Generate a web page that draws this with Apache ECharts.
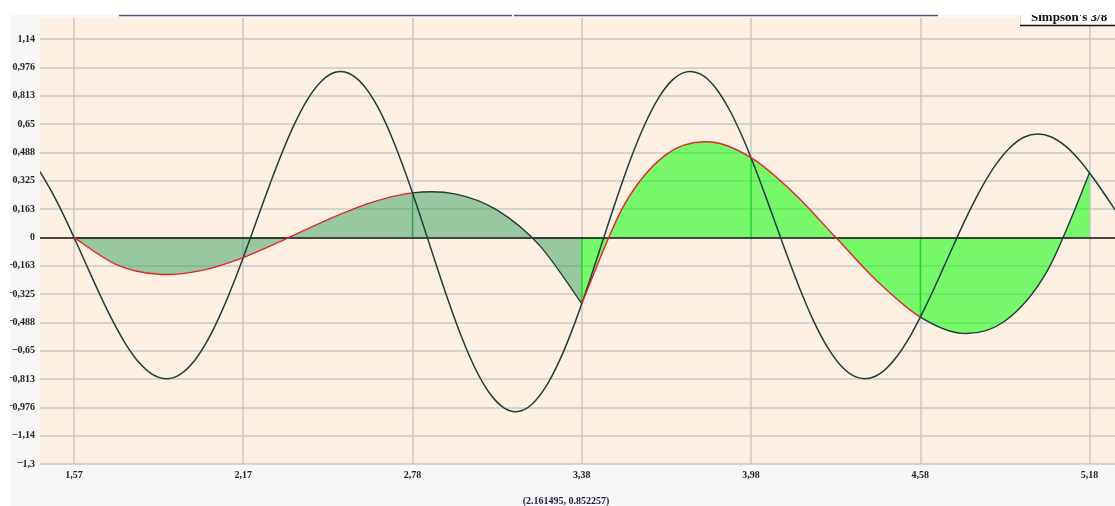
<!DOCTYPE html>
<html><head><meta charset="utf-8">
<style>html,body{margin:0;padding:0;background:#fff;}#c{width:1115px;height:506px;}</style>
<script src="https://cdn.jsdelivr.net/npm/echarts@6.0.0/dist/echarts.min.js"></script>
</head><body><div id="c"></div>
<script>
// function curve f(x)
const fX = [1.45,1.50,1.55,1.60,1.65,1.70,1.75,1.80,1.85,1.90,
  1.95,2.00,2.05,2.10,2.15,2.20,2.25,2.30,2.35,2.40,
  2.45,2.50,2.55,2.60,2.65,2.70,2.75,2.80,2.85,2.90,
  2.95,3.00,3.05,3.10,3.15,3.20,3.25,3.30,3.35,3.40,
  3.45,3.50,3.55,3.60,3.65,3.70,3.75,3.80,3.85,3.90,
  3.95,4.00,4.05,4.10,4.15,4.20,4.25,4.30,4.35,4.40,
  4.45,4.50,4.55,4.60,4.65,4.70,4.75,4.80,4.85,4.90,
  4.95,5.00,5.05,5.10,5.15,5.20,5.25,5.274];
const fY = [0.377,0.236,0.073,-0.104,-0.283,-0.452,-0.599,-0.714,-0.786,-0.811,
  -0.784,-0.706,-0.580,-0.412,-0.214,0.004,0.227,0.441,0.632,0.787,
  0.894,0.947,0.940,0.874,0.752,0.580,0.370,0.135,-0.111,-0.352,
  -0.573,-0.758,-0.896,-0.978,-0.999,-0.957,-0.855,-0.700,-0.502,-0.273,
  -0.028,0.216,0.445,0.643,0.799,0.903,0.949,0.936,0.864,0.739,
  0.571,0.371,0.152,-0.071,-0.283,-0.473,-0.627,-0.738,-0.799,-0.808,
  -0.767,-0.679,-0.553,-0.397,-0.224,-0.044,0.130,0.287,0.417,0.514,
  0.574,0.593,0.574,0.520,0.438,0.333,0.216,0.158];
// Simpson 3/8 interpolating cubics, panel 1 and panel 2
const panel1X = [1.5708,1.7213,1.8719,2.0224,2.1729,2.3235,2.4740,2.6245,2.7751,2.9256,3.0761,3.2267,3.3772];
const panel1Y = [0,-0.156,-0.212,-0.191,-0.116,-0.010,0.102,0.198,0.255,0.249,0.156,-0.046,-0.380];
const panel2X = [3.3772,3.5277,3.6783,3.8288,3.9793,4.1299,4.2804,4.4309,4.5815,4.7320,4.8825,5.0331,5.1836];
const panel2Y = [-0.380,0.185,0.476,0.548,0.457,0.256,0.000,-0.256,-0.458,-0.551,-0.480,-0.192,0.370];
// nodes
const nodeX = [1.5708,2.1729,2.7751,3.3772,3.9793,4.5815,5.1836];
const nodeY = [0,-0.116,0.255,-0.380,0.457,-0.458,0.370];
// ticks
const xTickValues = [1.5708,2.1729,2.7751,3.3772,3.9793,4.5815,5.1836];
const xTickLabels = ["1,57","2,17","2,78","3,38","3,98","4,58","5,18"];
const yTickValues = [-1.3,-1.1375,-0.975,-0.8125,-0.65,-0.4875,-0.325,-0.1625,0,0.1625,0.325,0.4875,0.65,0.8125,0.975,1.1375];
const yTickLabels = ["-1,3","-1,14","-0,976","-0,813","-0,65","-0,488","-0,325","-0,163","0","0,163","0,325","0,488","0,65","0,813","0,976","1,14"];
const legendLabel = "Simpson's 3/8";
const cursorLabel = "(2.161495, 0.852257)";

const zip = (a, b) => a.map((v, i) => [v, b[i]]);
const lookup = (vals, labs) => v => { const i = vals.findIndex(t => Math.abs(t - v) < 1e-6); return i < 0 ? '' : labs[i]; };

// Catmull-Rom path through pixel points, segment range [s, e]
function crPath(pts, s, e) {
  let d = 'M' + pts[s][0] + ' ' + pts[s][1];
  for (let i = s; i < e; i++) {
    const p0 = pts[i > 0 ? i - 1 : i], p1 = pts[i], p2 = pts[i + 1], p3 = pts[i + 2 < pts.length ? i + 2 : i + 1];
    const c1x = p1[0] + (p2[0] - p0[0]) / 6, c1y = p1[1] + (p2[1] - p0[1]) / 6;
    const c2x = p2[0] - (p3[0] - p1[0]) / 6, c2y = p2[1] - (p3[1] - p1[1]) / 6;
    d += ' C' + c1x + ' ' + c1y + ' ' + c2x + ' ' + c2y + ' ' + p2[0] + ' ' + p2[1];
  }
  return d;
}
function curveSeries(xs, ys, opt) {
  const s = opt.from || 0, e = opt.to == null ? xs.length - 1 : opt.to;
  return {
    type: 'custom', coordinateSystem: 'cartesian2d', z: opt.z, silent: true, clip: true,
    data: zip(xs, ys), encode: {x: 0, y: 1},
    renderItem: function (params, api) {
      if (params.dataIndex !== 0) return null;
      const pts = xs.map((x, i) => api.coord([x, ys[i]]));
      let d = crPath(pts, s, e);
      if (opt.fill) {
        const b0 = api.coord([xs[e], 0]), b1 = api.coord([xs[s], 0]);
        d += ' L' + b0[0] + ' ' + b0[1] + ' L' + b1[0] + ' ' + b1[1] + ' Z';
        return {type: 'path', shape: {pathData: d}, style: {fill: opt.fill, stroke: null, lineWidth: 0}};
      }
      return {type: 'path', shape: {pathData: d}, style: {fill: null, stroke: opt.stroke, lineWidth: opt.width}};
    }
  };
}

const labelFont = {fontFamily: 'Liberation Serif', fontWeight: 'bold', fontSize: 10, color: '#222'};
const dark = '#1f3c3c', red = '#e02626';
const fill1 = 'rgba(46,160,87,0.49)', fill2 = 'rgba(0,255,0,0.53)';

const series = [];
series.push(curveSeries(panel1X, panel1Y, {fill: fill1, z: 2}));
series.push(curveSeries(panel2X, panel2Y, {fill: fill2, z: 2}));
[2, 3, 4, 5].forEach((i, k) => {
  const s = {type: 'line', data: [[nodeX[i], 0], [nodeX[i], nodeY[i]]], symbol: 'none', silent: true,
    lineStyle: {width: 1.3, color: i === 2 ? '#3c9c60' : '#1fd31f'}, z: 3};
  if (k === 0) s.markLine = {silent: true, symbol: 'none', label: {show: false}, lineStyle: {color: '#151515', width: 1.5, type: 'solid'}, data: [{yAxis: 0}]};
  series.push(s);
});
series.push(curveSeries(fX, fY, {stroke: dark, width: 1.5, z: 5}));
series.push(curveSeries(panel1X, panel1Y, {stroke: red, width: 1.4, z: 6, from: 0, to: 8}));
series.push(curveSeries(panel1X, panel1Y, {stroke: dark, width: 1.4, z: 6, from: 8, to: 12}));
series.push(curveSeries(panel2X, panel2Y, {stroke: red, width: 1.4, z: 6, from: 0, to: 8}));
series.push(curveSeries(panel2X, panel2Y, {stroke: dark, width: 1.4, z: 6, from: 8, to: 12}));

const yLabelFmt = v => {
  const t = lookup(yTickValues, yTickLabels)(v);
  return t.charAt(0) === '-' ? '{m|\u2013}{n|' + t.slice(1) + '}' : '{n|' + t + '}';
};

const chart = echarts.init(document.getElementById('c'), null, {renderer: 'canvas'});
chart.setOption({
  animation: false,
  backgroundColor: '#f7f7f7',
  grid: {left: 40, right: 0, top: 18, height: 446, show: true, backgroundColor: '#fdf0e3', borderWidth: 0},
  xAxis: {type: 'value', min: 1.45, max: 5.274,
    axisLine: {show: false},
    axisTick: {show: true, customValues: xTickValues, length: 3, lineStyle: {color: '#c2c2c2', width: 1.5}},
    axisLabel: Object.assign({customValues: xTickValues, margin: 6, formatter: lookup(xTickValues, xTickLabels)}, labelFont),
    splitLine: {show: true, lineStyle: {color: '#c8c8c8', width: 1.5}}},
  yAxis: {type: 'value', min: -1.3, max: 1.258,
    axisLine: {show: false},
    axisTick: {show: false, customValues: yTickValues},
    axisLabel: Object.assign({customValues: yTickValues, margin: 5, formatter: yLabelFmt,
      rich: {
        m: {fontFamily: 'Liberation Serif', fontWeight: 'bold', fontSize: 10, color: '#222', padding: [0, 0, 3, 0]},
        n: {fontFamily: 'Liberation Serif', fontWeight: 'bold', fontSize: 10, color: '#222'}
      }}, labelFont),
    splitLine: {show: true, lineStyle: {color: '#c8c8c8', width: 1.5}}},
  series: series,
  graphic: [
    {type: 'rect', z: 90, shape: {x: 0, y: 0, width: 10, height: 506}, style: {fill: '#ffffff'}},
    {type: 'rect', z: 100, shape: {x: 1020, y: 14, width: 95, height: 11}, style: {fill: '#ffffff'}},
    {type: 'text', z: 101, style: {text: legendLabel, x: 1031, y: 17.5, verticalAlign: 'middle', font: 'bold 13px "Liberation Serif"', fill: '#111'}},
    {type: 'rect', z: 102, shape: {x: 0, y: 0, width: 1115, height: 15}, style: {fill: '#ffffff'}},
    {type: 'line', z: 103, shape: {x1: 1020.5, y1: 15, x2: 1020.5, y2: 25}, style: {stroke: '#ece49a', lineWidth: 1}},
    {type: 'line', z: 103, shape: {x1: 1020, y1: 25.5, x2: 1115, y2: 25.5}, style: {stroke: '#111', lineWidth: 1.5}},
    {type: 'line', z: 103, shape: {x1: 119, y1: 15.5, x2: 512, y2: 15.5}, style: {stroke: '#545480', lineWidth: 1.6}},
    {type: 'line', z: 103, shape: {x1: 514, y1: 15.5, x2: 938, y2: 15.5}, style: {stroke: '#545480', lineWidth: 1.6}},
    {type: 'text', z: 103, style: {text: cursorLabel, x: 566, y: 501, align: 'center', verticalAlign: 'middle', font: 'bold 10px "Liberation Serif"', fill: '#1a1a4e'}}
  ]
});
</script></body></html>
